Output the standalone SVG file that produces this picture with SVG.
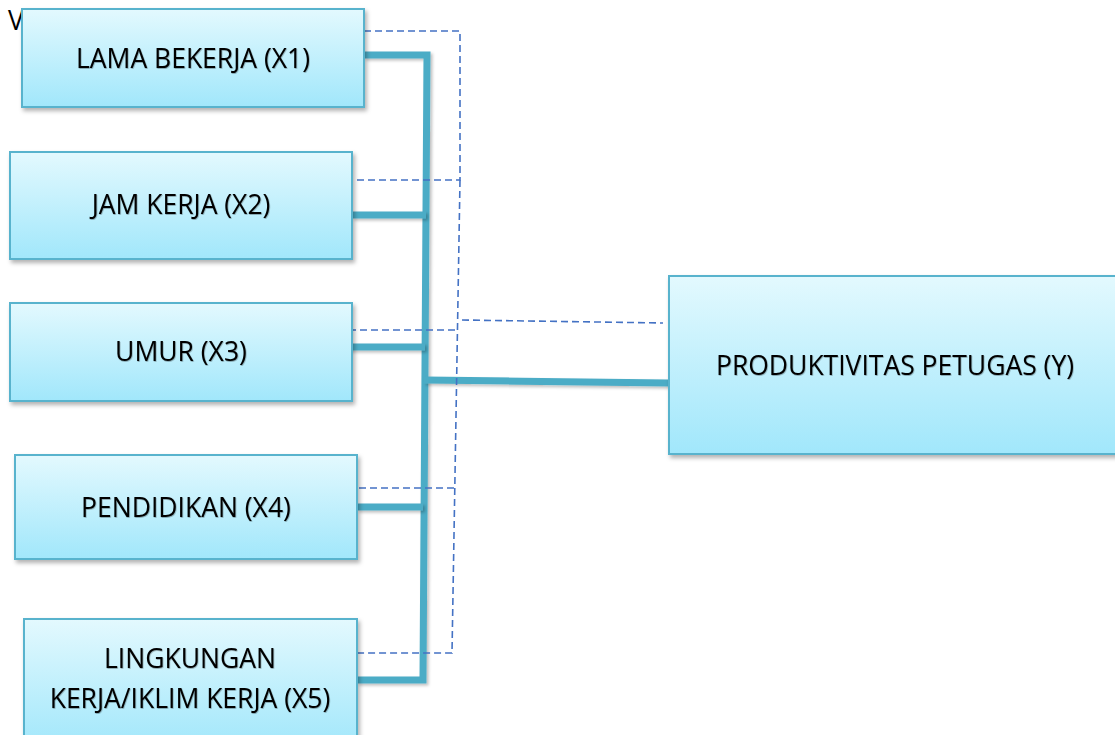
<svg xmlns="http://www.w3.org/2000/svg" width="1115" height="735" viewBox="0 0 1115 735">
<defs>
<linearGradient id="boxg" x1="0" y1="0" x2="0" y2="1">
<stop offset="0" stop-color="#e3f9fe"/>
<stop offset="1" stop-color="#a1e7fb"/>
</linearGradient>
<filter id="sh" x="-10%" y="-10%" width="125%" height="130%">
<feDropShadow dx="2" dy="3" stdDeviation="2" flood-color="#000" flood-opacity="0.3"/>
</filter>
<filter id="lsh" filterUnits="userSpaceOnUse" x="0" y="0" width="1115" height="735">
<feDropShadow dx="2" dy="2" stdDeviation="1.5" flood-color="#000" flood-opacity="0.25"/>
</filter>
<filter id="tsh" filterUnits="userSpaceOnUse" x="0" y="0" width="1115" height="735">
<feDropShadow dx="0.6" dy="0.8" stdDeviation="0.6" flood-color="#000" flood-opacity="0.35"/>
</filter>
</defs>
<style>
.box{fill:url(#boxg);stroke:#58b3cd;stroke-width:2;filter:url(#sh)}
.lbl{font-family:"Open Sans","Liberation Sans",sans-serif;font-size:26.5px;fill:#000;text-anchor:middle;filter:url(#tsh)}
.thick{fill:none;stroke:#4bacc6;stroke-width:7;filter:url(#lsh)}
.dash{fill:none;stroke:#4472c4;stroke-width:1.6;stroke-dasharray:7 4}
</style>
<rect width="1115" height="735" fill="#fff"/>
<text x="8" y="30" style="font-family:'Open Sans','Liberation Sans',sans-serif;font-size:26.5px;fill:#000">V</text>
<g id="connectors">
<path class="thick" d="M364,55 H427 L423,680 H357"/>
<path class="thick" d="M352,215 H426"/>
<path class="thick" d="M348,347 H425"/>
<path class="thick" d="M357,507 H423"/>
<path class="thick" d="M424,380 L669,383"/>
<path class="dash" d="M364,31 H460 V180 H349"/>
<path class="dash" d="M460,180 L452,653 H353"/>
<path class="dash" d="M455,330 H345"/>
<path class="dash" d="M454,488 H356"/>
<path class="dash" d="M462,320 L663,323"/>
</g>
<g id="x1">
<rect class="box" x="22" y="9" width="342" height="98"/>
<text class="lbl" x="193" y="68">LAMA BEKERJA (X1)</text>
</g>
<g id="x2">
<rect class="box" x="10" y="152" width="342" height="107"/>
<text class="lbl" x="181" y="214">JAM KERJA (X2)</text>
</g>
<g id="x3">
<rect class="box" x="10" y="303" width="342" height="98"/>
<text class="lbl" x="181" y="361">UMUR (X3)</text>
</g>
<g id="x4">
<rect class="box" x="15" y="455" width="342" height="104"/>
<text class="lbl" x="186" y="517">PENDIDIKAN (X4)</text>
</g>
<g id="x5">
<rect class="box" x="24" y="619" width="333" height="130"/>
<text class="lbl" x="190" y="668">LINGKUNGAN</text>
<text class="lbl" x="190" y="708">KERJA/IKLIM KERJA (X5)</text>
</g>
<g id="y">
<rect class="box" x="669" y="276" width="460" height="178"/>
<text class="lbl" x="895" y="375">PRODUKTIVITAS PETUGAS (Y)</text>
</g>
</svg>
